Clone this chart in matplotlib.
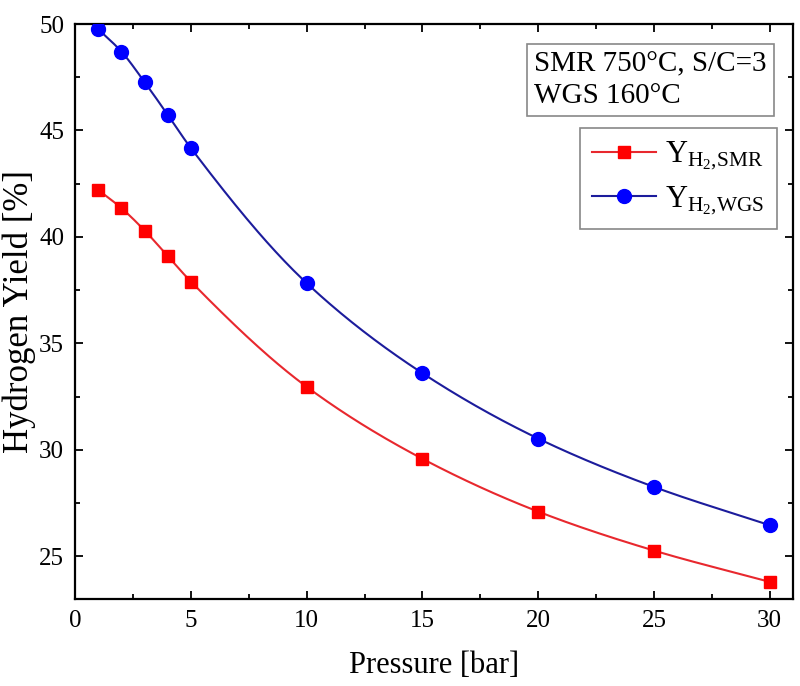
import numpy as np
import matplotlib
matplotlib.use('Agg')
import matplotlib.pyplot as plt
from matplotlib.ticker import MultipleLocator

plt.rcParams['font.family'] = ['Liberation Serif', 'DejaVu Serif']
plt.rcParams['mathtext.fontset'] = 'custom'
plt.rcParams['mathtext.rm'] = 'Liberation Serif'
plt.rcParams['mathtext.it'] = 'Liberation Serif:italic'

pressure = [1, 2, 3, 4, 5, 10, 15, 20, 25, 30]
y_smr = [42.2, 41.35, 40.3, 39.1, 37.9, 32.96, 29.58, 27.1, 25.27, 23.8]
y_wgs = [49.75, 48.7, 47.27, 45.73, 44.17, 37.83, 33.6, 30.53, 28.26, 26.46]


def smooth(x, y, n=300):
    # monotone cubic hermite connector (like Origin's spline line)
    x = np.asarray(x, float)
    y = np.asarray(y, float)
    h = np.diff(x)
    d = np.diff(y) / h
    m = np.zeros_like(y)
    m[0], m[-1] = d[0], d[-1]
    for i in range(1, len(x) - 1):
        if d[i - 1] * d[i] > 0:
            w1 = 2 * h[i] + h[i - 1]
            w2 = h[i] + 2 * h[i - 1]
            m[i] = (w1 + w2) / (w1 / d[i - 1] + w2 / d[i])
    xs = np.linspace(x[0], x[-1], n)
    k = np.clip(np.searchsorted(x, xs) - 1, 0, len(x) - 2)
    t = (xs - x[k]) / h[k]
    h00 = 2 * t**3 - 3 * t**2 + 1
    h10 = t**3 - 2 * t**2 + t
    h01 = -2 * t**3 + 3 * t**2
    h11 = t**3 - t**2
    ys = h00 * y[k] + h10 * h[k] * m[k] + h01 * y[k + 1] + h11 * h[k] * m[k + 1]
    return xs, ys


fig = plt.figure(figsize=(8, 6.86), dpi=100)
ax = fig.add_axes([0.094, 0.127, 0.897, 0.838])

xs, ys = smooth(pressure, y_smr)
ax.plot(xs, ys, color='#e8282e', lw=1.5, zorder=2)
ax.plot(pressure, y_smr, 's', color='#ff0000', ms=8.5, zorder=3)
xs, ys = smooth(pressure, y_wgs)
ax.plot(xs, ys, color='#1c1c9c', lw=1.5, zorder=2)
ax.plot(pressure, y_wgs, 'o', color='#0000ff', ms=10, zorder=3)

# legend handles
h1, = ax.plot([], [], 's-', color='#e8282e', mfc='#ff0000', mec='#ff0000', ms=8.5, lw=1.5)
h2, = ax.plot([], [], 'o-', color='#1c1c9c', mfc='#0000ff', mec='#0000ff', ms=10, lw=1.5)
leg = ax.legend([h1, h2], [r'Y$_{\mathrm{H_2{,}SMR}}$', r'Y$_{\mathrm{H_2{,}WGS}}$'],
                loc='upper right', bbox_to_anchor=(0.978, 0.819), fontsize=22,
                borderaxespad=0, fancybox=False, edgecolor='#888888', framealpha=1,
                handlelength=2.1, borderpad=0.4, labelspacing=0.4, handletextpad=0.3)
leg.get_frame().set_linewidth(1.2)

ax.text(0.64, 0.952, 'SMR 750°C, S/C=3\nWGS 160°C', transform=ax.transAxes,
        fontsize=21, va='top', ha='left', linespacing=1.25,
        bbox=dict(boxstyle='square,pad=0.25', fc='white', ec='#888888', lw=1.2))

ax.set_xlim(0, 31)
ax.set_ylim(23, 50)
ax.xaxis.set_major_locator(MultipleLocator(5))
ax.xaxis.set_minor_locator(MultipleLocator(2.5))
ax.yaxis.set_major_locator(MultipleLocator(5))
ax.yaxis.set_minor_locator(MultipleLocator(2.5))
ax.tick_params(which='both', direction='in', top=True, right=True, width=1.3,
               labelsize=18, pad=8)
ax.tick_params(which='major', length=6)
ax.tick_params(which='minor', length=3.5)
for s in ax.spines.values():
    s.set_linewidth(1.6)

ax.set_xlabel('Pressure [bar]', fontsize=22, labelpad=14)
ax.set_ylabel('Hydrogen Yield [%]', fontsize=25, labelpad=2)

fig.savefig('out.png', dpi=100)
